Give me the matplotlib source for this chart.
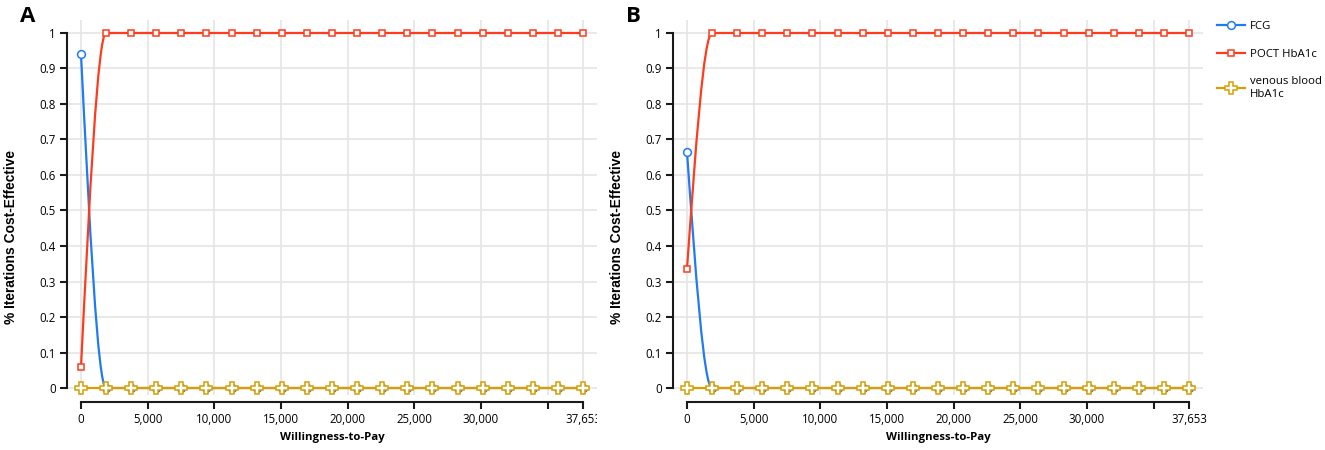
import numpy as np
import matplotlib
matplotlib.use("Agg")
import matplotlib.pyplot as plt
from matplotlib.path import Path
from matplotlib.patches import PathPatch
from matplotlib.lines import Line2D
from matplotlib.transforms import Bbox

plt.rcParams['font.family'] = ['Open Sans', 'DejaVu Sans']

# willingness-to-pay grid: 21 points from 0 to 37,653
wtp_max = 37653
wtp = [0, 1883, 3765, 5648, 7531, 9413, 11296, 13179, 15061, 16944, 18827,
       20709, 22592, 24474, 26357, 28240, 30122, 32005, 33888, 35770, 37653]

# panel A
fcg_a = [0.94] + [0.0] * 20
poct_a = [0.06] + [1.0] * 20
venous_a = [0.0] * 21

# panel B
fcg_b = [0.665] + [0.0] * 20
poct_b = [0.335] + [1.0] * 20
venous_b = [0.0] * 21

x_ticks = [0, 5000, 10000, 15000, 20000, 25000, 30000, 35000, 37653]
x_ticklabels = ['0', '5,000', '10,000', '15,000', '20,000', '25,000', '30,000', '', '37,653']
y_ticks = [0, 0.1, 0.2, 0.3, 0.4, 0.5, 0.6, 0.7, 0.8, 0.9, 1]
y_ticklabels = ['0', '0.1', '0.2', '0.3', '0.4', '0.5', '0.6', '0.7', '0.8', '0.9', '1']

series_names = ['FCG', 'POCT HbA1c', 'venous blood\nHbA1c']
colors = ['#1F7BF2', '#FF3B1E', '#D99E00']
markers = ['o', 's', 'P']
msizes = [5.6, 5.0, 8.0]


def monotone_path(x, y):
    """Smooth monotone cubic curve through the points (like d3 curveMonotoneX)"""
    x = np.asarray(x, float)
    y = np.asarray(y, float)
    n = len(x)
    h = np.diff(x)
    s = np.diff(y) / h
    t = np.zeros(n)
    for i in range(1, n - 1):
        p = (s[i - 1] * h[i] + s[i] * h[i - 1]) / (h[i - 1] + h[i])
        t[i] = (np.sign(s[i - 1]) + np.sign(s[i])) * min(abs(s[i - 1]), abs(s[i]), 0.5 * abs(p))
    t[0] = (3 * s[0] - t[1]) / 2
    t[-1] = (3 * s[-1] - t[-2]) / 2
    verts = [(x[0], y[0])]
    codes = [Path.MOVETO]
    for i in range(n - 1):
        dx = h[i] / 3
        verts += [(x[i] + dx, y[i] + dx * t[i]), (x[i + 1] - dx, y[i + 1] - dx * t[i + 1]), (x[i + 1], y[i + 1])]
        codes += [Path.CURVE4] * 3
    return Path(verts, codes)


fig = plt.figure(figsize=(13.25, 4.5), dpi=100)

panels = [
    ('A', 68, [fcg_a, poct_a, venous_a]),
    ('B', 674, [fcg_b, poct_b, venous_b]),
]

for letter, left_px, data in panels:
    ax = fig.add_axes([left_px / 1325, 1 - 395 / 450, 529 / 1325, 375 / 450])
    ax.set_xlim(-975, 38703)
    ax.set_ylim(-0.0197, 1.0366)

    for vals, c, m, ms in zip(data, colors, markers, msizes):
        ax.add_patch(PathPatch(monotone_path(wtp, vals), facecolor='none', edgecolor=c, lw=1.6, zorder=3))
        ax.plot(wtp, vals, ls='none', marker=m, ms=ms, mfc='white', mec=c,
                mew=1.1, zorder=4, clip_on=False)

    ax.set_xticks(x_ticks)
    ax.set_xticklabels(x_ticklabels)
    ax.set_yticks(y_ticks)
    ax.set_yticklabels(y_ticklabels)
    ax.grid(True, color='#e3e3e3', lw=1.1, zorder=0)
    ax.set_axisbelow(True)

    for side in ['top', 'right']:
        ax.spines[side].set_visible(False)
    ax.spines['left'].set_bounds(0, 1)
    ax.spines['bottom'].set_bounds(0, wtp_max)
    ax.spines['bottom'].set_position(('outward', 5))
    ax.spines['left'].set_position(('outward', 1))
    for side in ['left', 'bottom']:
        ax.spines[side].set_linewidth(1.5)
        ax.spines[side].set_color('#1a1a1a')
    ax.tick_params(axis='both', length=5, width=1.5, color='#1a1a1a', labelsize=8.3,
                   labelcolor='#000000', pad=3)

    ax.set_xlabel('Willingness-to-Pay', fontsize=8.2, fontweight='bold', labelpad=4.5)
    ax.set_ylabel('% Iterations Cost-Effective', fontsize=9.9, fontweight='bold',
                  family=['Liberation Sans', 'DejaVu Sans'])
    ax.yaxis.set_label_coords(-0.094, 0.42)
    fig.text((left_px - 48) / 1325, 1 - 16 / 450, letter, fontsize=16, fontweight='bold',
             va='center', ha='left')

    if letter == 'A':
        # the last label is cut off at the panel edge in the original
        clip = Bbox.from_extents(0, 0, 597, 450)
        fig.canvas.draw()
        for lab in ax.get_xticklabels():
            lab.set_clip_on(True)
            lab.set_clip_box(clip)

handles = [Line2D([], [], color=c, lw=1.6, marker=m, ms=ms, mfc='white', mec=c, mew=1.1)
           for c, m, ms in zip(colors, markers, msizes)]
fig.legend(handles, series_names, loc='upper left', bbox_to_anchor=(1207 / 1325, 1 - 11 / 450),
           frameon=False, fontsize=8.2, handlelength=2.4, labelspacing=1.45, handletextpad=0.5)

fig.savefig('out.png', dpi=100)
